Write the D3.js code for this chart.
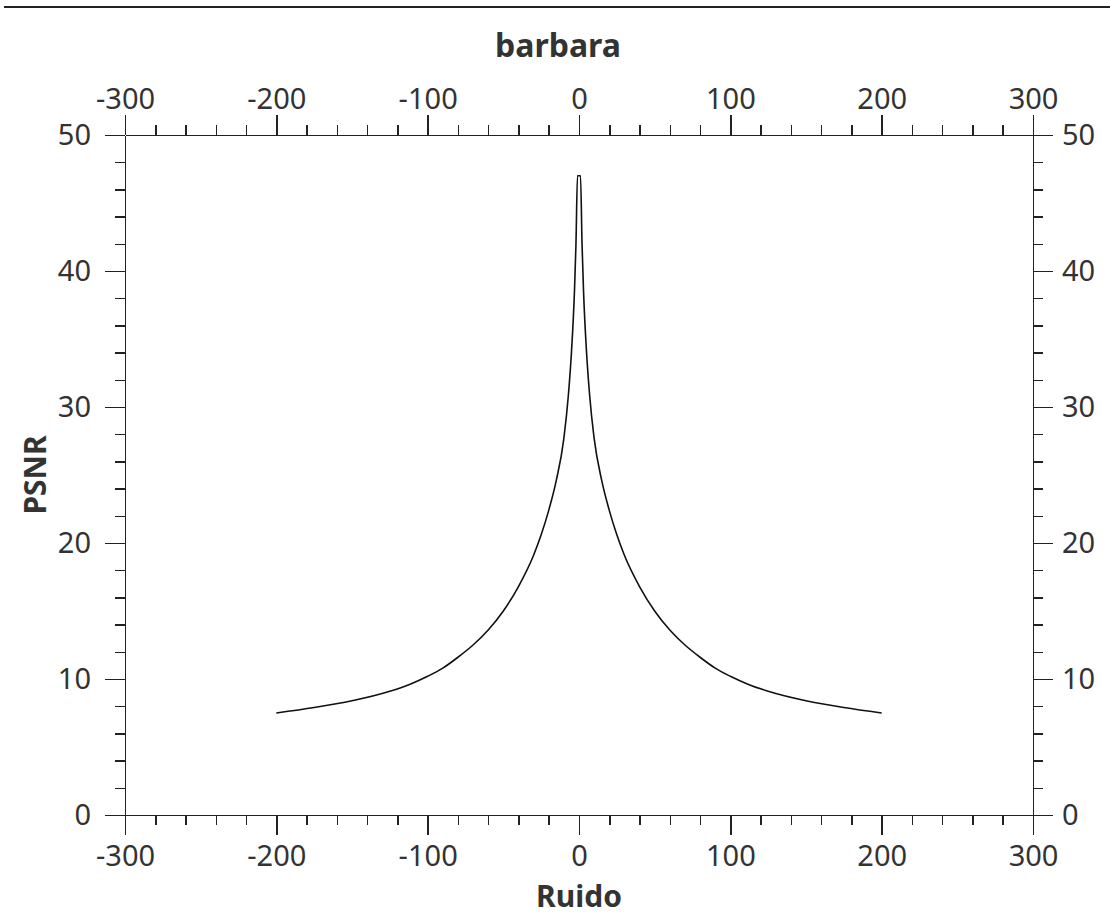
<!DOCTYPE html>
<html>
<head>
<meta charset="utf-8">
<title>barbara</title>
<script src="https://cdn.jsdelivr.net/npm/d3@7"></script>
<style>
body {
  margin: 0;
  background: #ffffff;
}
svg text {
  font-family: "Noto Sans", "Open Sans", sans-serif;
  fill: #333333;
}
.axis path,
.axis line {
  stroke: #222222;
  stroke-width: 1.5;
  shape-rendering: crispEdges;
}
.axis text {
  font-size: 29px;
}
.title {
  font-size: 32px;
  font-weight: bold;
}
.label {
  font-size: 30px;
  font-weight: bold;
}
</style>
</head>
<body>
<div class="target"></div>
<script>
// values
var noise = [-200, -175, -150, -125, -112, -100, -90, -80, -70, -60, -50, -40, -30, -25, -20, -15, -10, -7, -5, -3, -2, -1,
             1, 2, 3, 5, 7, 10, 15, 20, 25, 30, 40, 50, 60, 70, 80, 90, 100, 112, 125, 150, 175, 200];
var psnr = [7.5, 7.9, 8.4, 9.1, 9.6, 10.2, 10.8, 11.6, 12.5, 13.6, 15.0, 16.8, 19.1, 20.6, 22.4, 24.6, 27.7, 30.9, 34.0, 38.5, 42.0, 47.0,
            47.0, 42.0, 38.5, 34.0, 30.9, 27.7, 24.6, 22.4, 20.6, 19.1, 16.8, 15.0, 13.6, 12.5, 11.6, 10.8, 10.2, 9.6, 9.1, 8.4, 7.9, 7.5];
var xTicks = [-300, -200, -100, 0, 100, 200, 300];
var yTicks = [0, 10, 20, 30, 40, 50];

var W = 1110, H = 920;
var margin = {top: 135, right: 77, bottom: 105, left: 125},
  width = W - margin.left - margin.right,
  height = H - margin.top - margin.bottom;

var root = d3.select(".target").append("svg")
  .attr("width", W)
  .attr("height", H);

// rule across the top of the page
root.append("line")
  .attr("x1", 4).attr("x2", W)
  .attr("y1", 7).attr("y2", 7)
  .attr("stroke", "#222")
  .attr("stroke-width", 2);

var svg = root.append("g")
  .attr("transform", "translate(" + margin.left + "," + margin.top + ")");

var x = d3.scaleLinear().domain([-300, 300]).range([0, width]);
var y = d3.scaleLinear().domain([0, 50]).range([height, 0]);

var xMinor = d3.range(-300, 301, 20).filter(function(v){ return v % 100 !== 0; });
var yMinor = d3.range(0, 51, 2).filter(function(v){ return v % 10 !== 0; });

// plain hyphen for negatives, like the original
function fmt(d) { return String(d); }

function addAxis(axisFn, scale, major, minor, transform, cls) {
  svg.append("g")
    .attr("class", "axis " + cls)
    .attr("transform", transform)
    .call(axisFn(scale).tickValues(minor).tickSize(10).tickFormat("").tickSizeOuter(0));
  svg.append("g")
    .attr("class", "axis " + cls)
    .attr("transform", transform)
    .call(axisFn(scale).tickValues(major).tickSize(20).tickPadding(6).tickSizeOuter(0).tickFormat(fmt));
}

addAxis(d3.axisBottom, x, xTicks, xMinor, "translate(0," + height + ")", "xb");
addAxis(d3.axisTop, x, xTicks, xMinor, "translate(0,0)", "xt");
addAxis(d3.axisLeft, y, yTicks, yMinor, "translate(0,0)", "yl");
addAxis(d3.axisRight, y, yTicks, yMinor, "translate(" + width + ",0)", "yr");

svg.selectAll(".xb text").attr("dy", "0.85em");
svg.selectAll(".yl text").attr("x", -34);
svg.selectAll(".yr text").attr("x", 29);

var line = d3.line()
  .x(function(d, i){ return x(noise[i]); })
  .y(function(d){ return y(d); })
  .curve(d3.curveMonotoneX);

svg.append("path")
  .datum(psnr)
  .attr("fill", "none")
  .attr("stroke", "#111")
  .attr("stroke-width", 1.6)
  .attr("d", line);

svg.append("text")
  .attr("class", "title")
  .attr("x", 558 - margin.left)
  .attr("y", 57 - margin.top)
  .attr("text-anchor", "middle")
  .text("barbara");

svg.append("text")
  .attr("class", "label")
  .attr("x", width / 2)
  .attr("y", 907 - margin.top)
  .attr("text-anchor", "middle")
  .text("Ruido");

svg.append("text")
  .attr("class", "label")
  .attr("transform", "translate(" + (46 - margin.left) + "," + (height / 2) + ") rotate(-90)")
  .attr("text-anchor", "middle")
  .text("PSNR");
</script>
</body>
</html>
